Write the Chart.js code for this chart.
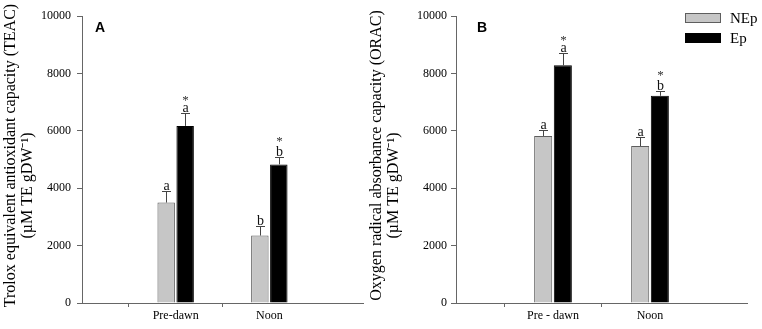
<!DOCTYPE html>
<html>
<head>
<meta charset="utf-8">
<script src="https://cdn.jsdelivr.net/npm/chart.js@4.4.0/dist/chart.umd.min.js"></script>
<style>
  html, body { margin: 0; padding: 0; background: #fff; }
  #wrap { position: relative; width: 762px; height: 329px; }
  .panel { position: absolute; top: 0; height: 329px; }
  #panelA { left: 0; width: 366px; }
  #panelB { left: 366px; width: 396px; }
</style>
</head>
<body>
<div id="wrap">
  <div class="panel" id="panelA"><canvas id="chartA"></canvas></div>
  <div class="panel" id="panelB"><canvas id="chartB"></canvas></div>
</div>
<script>
// data
const series = ['NEp', 'Ep'];
const timesA = ['Pre-dawn', 'Noon'];
const timesB = ['Pre - dawn', 'Noon'];
const yTicks = [0, 2000, 4000, 6000, 8000, 10000];

// panel A - TEAC
const teacNEp = [3500, 2350];
const teacEp = [6170, 4830];
const teacErrNEp = [400, 340];
const teacErrEp = [450, 250];
const teacLetNEp = ['a', 'b'];
const teacLetEp = ['a', 'b'];

// panel B - ORAC
const oracNEp = [5820, 5470];
const oracEp = [8280, 7220];
const oracErrNEp = [200, 300];
const oracErrEp = [420, 160];
const oracLetNEp = ['a', 'a'];
const oracLetEp = ['a', 'b'];

const starsNEp = ['', ''];
const starsEp = ['*', '*'];

const AXIS = '#666';
const SERIF = '"Liberation Serif", "Times New Roman", serif';

// empty slots either side so the two groups sit at 1/3 and 2/3 of the axis
const pad = arr => [null, ...arr, null];

const annotate = {
  id: 'annotate',
  afterDatasetsDraw(chart, args, opts) {
    const { ctx, chartArea } = chart;
    const y = chart.scales.y;
    ctx.save();
    chart.data.datasets.forEach((ds, di) => {
      const meta = chart.getDatasetMeta(di);
      meta.data.forEach((bar, i) => {
        if (ds.data[i] == null) return;
        const k = i - 1;
        const x = Math.round(bar.x) + 0.5;
        const cap = Math.round(y.getPixelForValue(ds.data[i] + ds.err[k])) + 0.5;
        ctx.strokeStyle = '#444';
        ctx.lineWidth = 1;
        ctx.beginPath();
        ctx.moveTo(x, bar.y);
        ctx.lineTo(x, cap);
        ctx.moveTo(x - 4.5, cap);
        ctx.lineTo(x + 4.5, cap);
        ctx.stroke();

        ctx.fillStyle = '#111';
        ctx.textAlign = 'center';
        ctx.textBaseline = 'alphabetic';
        ctx.font = '14px ' + SERIF;
        const letter = ds.letters[k];
        const base = cap - 1.5;
        ctx.fillText(letter, x, base);
        const top = base - ctx.measureText(letter).actualBoundingBoxAscent;
        if (ds.stars[k]) {
          ctx.font = '13px ' + SERIF;
          ctx.fillStyle = '#333';
          const m = ctx.measureText(ds.stars[k]);
          ctx.fillText(ds.stars[k], x, top - 4 - m.actualBoundingBoxDescent);
        }
      });
    });

    // panel letter
    ctx.fillStyle = '#000';
    ctx.textAlign = 'left';
    ctx.font = 'bold 14px "Liberation Sans", Arial, sans-serif';
    ctx.fillText(opts.letter, chartArea.left + opts.letterDx, 32);

    if (opts.legend) {
      const bx = chart.width - 77;
      chart.data.datasets.forEach((ds, di) => {
        const by = 13 + di * 20;
        ctx.fillStyle = ds.backgroundColor;
        ctx.fillRect(bx, by, 36, 10);
        ctx.strokeStyle = ds.borderColor;
        ctx.lineWidth = 1;
        ctx.strokeRect(bx + 0.5, by + 0.5, 35, 9);
        ctx.fillStyle = '#000';
        ctx.font = '15px ' + SERIF;
        ctx.fillText(ds.label, bx + 45, by + 10);
      });
    }
    ctx.restore();
  }
};

function makeChart(id, cats, nep, ep, errNep, errEp, letNep, letEp, title, opt) {
  const labels = pad(cats).map(v => v || '');
  return new Chart(document.getElementById(id), {
    type: 'bar',
    data: {
      labels: labels,
      datasets: [
        {
          label: series[0], data: pad(nep), err: errNep, letters: letNep, stars: starsNEp,
          backgroundColor: '#c6c6c6', borderColor: '#5e5e5e', borderWidth: 1,
          barPercentage: 0.92, categoryPercentage: 0.405
        },
        {
          label: series[1], data: pad(ep), err: errEp, letters: letEp, stars: starsEp,
          backgroundColor: '#000', borderColor: '#000', borderWidth: 1,
          barPercentage: 0.92, categoryPercentage: 0.405
        }
      ]
    },
    options: {
      responsive: true,
      maintainAspectRatio: false,
      animation: false,
      devicePixelRatio: 1,
      layout: { padding: { top: 16, right: opt.right, bottom: 0, left: 0 } },
      plugins: {
        legend: { display: false },
        tooltip: { enabled: false },
        annotate: opt
      },
      scales: {
        x: {
          offset: false,
          grid: {
            drawOnChartArea: false,
            tickLength: 4,
            tickColor: c => (labels[c.index] ? AXIS : 'rgba(0,0,0,0)')
          },
          border: { color: AXIS },
          ticks: { color: '#000', font: { family: SERIF, size: 12 }, padding: 2, maxRotation: 0, autoSkip: false },
          afterFit: s => { s.height = 26; }
        },
        y: {
          min: 0,
          max: 10000,
          afterBuildTicks: s => { s.ticks = yTicks.map(v => ({ value: v })); },
          grid: { drawOnChartArea: false, tickLength: 5, tickColor: AXIS },
          border: { color: AXIS },
          ticks: { color: '#000', font: { family: SERIF, size: 12 }, padding: opt.tickPad, callback: v => String(v) },
          title: {
            display: true,
            text: title,
            color: '#000',
            font: { family: SERIF, size: 16, lineHeight: 1.0625 },
            padding: { top: 2, bottom: 0 }
          },
          afterFit: s => { s.width = opt.yWidth; }
        }
      }
    },
    plugins: [annotate]
  });
}

makeChart('chartA', timesA, teacNEp, teacEp, teacErrNEp, teacErrEp, teacLetNEp, teacLetEp,
  ['  Trolox equivalent antioxidant capacity (TEAC)', '(\u00b5M TE gDW\u207b\u00b9)' + ' '.repeat(13)],
  { letter: 'A', letterDx: 13, legend: false, right: 3, yWidth: 82, tickPad: 6 });

makeChart('chartB', timesB, oracNEp, oracEp, oracErrNEp, oracErrEp, oracLetNEp, oracLetEp,
  ['  Oxygen radical absorbance capacity (ORAC)', '(\u00b5M TE gDW\u207b\u00b9)' + ' '.repeat(13)],
  { letter: 'B', letterDx: 21, legend: true, right: 15, yWidth: 90, tickPad: 4 });
</script>
</body>
</html>
